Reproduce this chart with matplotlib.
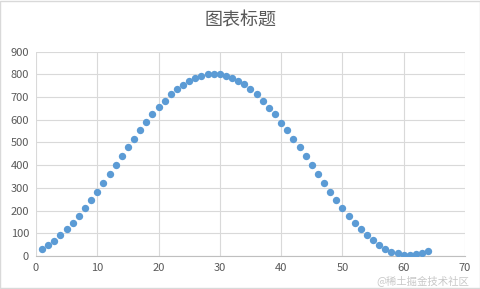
import matplotlib.pyplot as plt
from matplotlib.patches import Rectangle

plt.rcParams["font.family"] = ["Noto Sans CJK SC", "DejaVu Sans"]

# values
x_values = list(range(1, 65))
y_values = [
    30, 48, 66, 91, 117, 145, 176, 211, 246, 283,
    321, 361, 400, 440, 478, 516, 555, 590, 624, 655,
    685, 712, 734, 754, 770, 785, 795, 801, 802, 801,
    795, 785, 772, 756, 735, 712, 684, 654, 624, 588,
    553, 516, 478, 439, 400, 361, 323, 283, 246, 211,
    177, 147, 117, 91, 69, 48, 31, 19, 11, 6,
    5, 8, 13, 20,
]
x_ticks = [0, 10, 20, 30, 40, 50, 60, 70]
y_ticks = [0, 100, 200, 300, 400, 500, 600, 700, 800, 900]
title = "图表标题"

fig = plt.figure(figsize=(4.81, 2.89), dpi=100)
ax = fig.add_axes([0.0748, 0.1142, 0.8919, 0.7069])

ax.scatter(x_values, y_values, s=28, color="#5b9bd5", linewidths=0, zorder=3)

ax.set_xlim(0, 70)
ax.set_ylim(0, 900)
ax.set_xticks(x_ticks)
ax.set_yticks(y_ticks)
ax.grid(True, color="#d9d9d9", linewidth=0.8)
ax.set_axisbelow(True)
for name, sp in ax.spines.items():
    sp.set_visible(False)
ax.spines["bottom"].set_visible(True)
ax.spines["bottom"].set_color("#bfbfbf")
ax.tick_params(length=0, labelsize=8, labelcolor="#595959", pad=5)

fig.text(0.5, 0.93, title, ha="center", va="center", fontsize=13, color="#595959")
# watermark in the bottom right corner
fig.text(0.975, 0.028, "@稀土掘金技术社区", ha="right", va="center",
         fontsize=7.5, color="#c8c8c8")

fig.patches.append(Rectangle((0.001, 0.002), 0.997, 0.995, transform=fig.transFigure,
                             fill=False, edgecolor="#d9d9d9", linewidth=1))

fig.savefig("out.png", dpi=100)
